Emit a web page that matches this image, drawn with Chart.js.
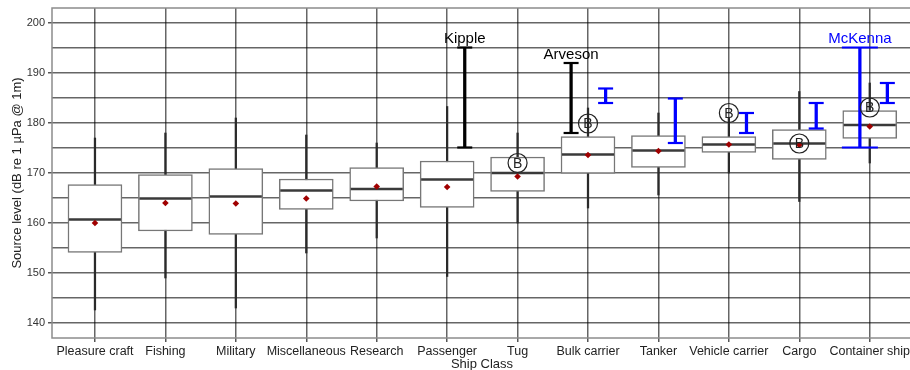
<!DOCTYPE html>
<html lang="en">
<head>
<meta charset="utf-8">
<style>
    html, body {
        margin: 0;
        padding: 0;
        background: #fff;
        overflow: hidden;
    }
    #wrap {
        width: 920px;
        height: 370px;
    }
</style>
</head>
<body>
<div id="wrap"><canvas id="shipChart" width="920" height="370"></canvas></div>

<script src="https://cdn.jsdelivr.net/npm/chart.js"></script>
<script>
    // ship classes along the x axis
    const categories = ['Pleasure craft', 'Fishing', 'Military', 'Miscellaneous', 'Research', 'Passenger',
        'Tug', 'Bulk carrier', 'Tanker', 'Vehicle carrier', 'Cargo', 'Container ship'];

    // box statistics (dB re 1 µPa @ 1m)
    const q1         = [154.1, 158.4, 157.7, 162.7, 164.4, 163.1, 166.3, 169.9, 171.1, 174.1, 172.7, 176.9];
    const medians    = [160.7, 164.9, 165.3, 166.5, 166.8, 168.7, 170.0, 173.7, 174.5, 175.7, 175.9, 179.6];
    const q3         = [167.7, 169.7, 170.9, 168.8, 171.1, 172.4, 173.2, 177.3, 177.5, 177.3, 178.7, 182.5];
    const means      = [160.0, 164.0, 163.9, 164.9, 167.3, 167.2, 169.3, 173.6, 174.4, 175.7, 175.6, 179.3];
    const whiskerLow = [142.6, 149.0, 143.0, 154.0, 157.0, 149.3, 160.0, 163.0, 165.6, 170.0, 164.3, 172.0];
    const whiskerHigh= [177.0, 178.0, 181.0, 177.6, 176.0, 183.3, 178.0, 183.0, 182.0, 181.0, 186.3, 188.0];

    // published reference ranges
    const refClass = ['Passenger', 'Bulk carrier', 'Bulk carrier', 'Tanker', 'Vehicle carrier', 'Cargo', 'Container ship', 'Container ship'];
    const refName  = ['Kipple', 'Arveson', '', '', '', '', 'McKenna', ''];
    const refLow   = [175.1, 178.0, 184.0, 176.0, 178.0, 178.9, 175.1, 184.0];
    const refHigh  = [195.1, 192.0, 186.9, 184.9, 182.0, 184.0, 195.1, 188.0];

    // "B" markers
    const bClass  = ['Tug', 'Bulk carrier', 'Vehicle carrier', 'Cargo', 'Container ship'];
    const bValues = [172.0, 179.9, 182.0, 175.9, 183.1];

    const yTicks = [140, 145, 150, 155, 160, 165, 170, 175, 180, 185, 190, 195, 200];

    // drawing style for the reference bars (side offset, colour, cap half width)
    const refDodge = [0.25, -0.24, 0.25, 0.24, 0.25, 0.24, -0.14, 0.25];
    const refColor = ['#000', '#000', '#0000ff', '#0000ff', '#0000ff', '#0000ff', '#0000ff', '#0000ff'];
    const refCap   = [7.5, 7.5, 7.5, 7.5, 7.5, 7.5, 18, 7.5];

    const FONT = "'Liberation Sans', Arial, Helvetica, sans-serif";
    const xOf = name => categories.indexOf(name) + 1;

    const refX = refClass.map((c, i) => xOf(c) + refDodge[i]);

    const capPoints = [], capRadius = [], capColor = [];
    refX.forEach((x, i) => {
        capPoints.push({x: x, y: refLow[i]}, {x: x, y: refHigh[i]});
        capRadius.push(refCap[i], refCap[i]);
        capColor.push(refColor[i], refColor[i]);
    });

    // B circles, labels and plot frame
    const annotate = {
        id: 'annotate',
        beforeDatasetsDraw(chart) {
            const a = chart.chartArea;
            const ctx = chart.ctx;
            ctx.save();
            ctx.strokeStyle = '#8c8c8c';
            ctx.lineWidth = 1.5;
            ctx.strokeRect(a.left, a.top, a.right - a.left, a.bottom - a.top);
            ctx.restore();
        },
        afterDatasetsDraw(chart) {
            const ctx = chart.ctx;
            const xs = chart.scales.x, ys = chart.scales.y;
            ctx.save();
            ctx.textAlign = 'center';

            bClass.forEach((c, i) => {
                const px = xs.getPixelForValue(xOf(c));
                const py = ys.getPixelForValue(bValues[i]);
                ctx.beginPath();
                ctx.arc(px, py, 9.5, 0, Math.PI * 2);
                ctx.lineWidth = 1.2;
                ctx.strokeStyle = '#222';
                ctx.stroke();
                ctx.fillStyle = '#222';
                ctx.font = '14px ' + FONT;
                ctx.textBaseline = 'middle';
                ctx.fillText('B', px, py + 1);
            });

            ctx.font = '15px ' + FONT;
            ctx.textBaseline = 'bottom';
            refName.forEach((name, i) => {
                if (!name) return;
                ctx.fillStyle = refColor[i];
                ctx.fillText(name, xs.getPixelForValue(refX[i]), ys.getPixelForValue(refHigh[i]) - 1);
            });
            ctx.restore();
        }
    };

    const ctx = document.getElementById('shipChart').getContext('2d');

    new Chart(ctx, {
        type: 'bar',
        data: {
            datasets: [
                {
                    // whiskers
                    type: 'bar',
                    data: categories.map((c, i) => ({x: i + 1, y: [whiskerLow[i], whiskerHigh[i]]})),
                    backgroundColor: '#2a2a2a',
                    barThickness: 1.6,
                    grouped: false,
                    order: 6
                },
                {
                    // boxes
                    type: 'bar',
                    data: categories.map((c, i) => ({x: i + 1, y: [q1[i], q3[i]]})),
                    backgroundColor: '#ffffff',
                    borderColor: '#777777',
                    borderWidth: 1.5,
                    borderSkipped: false,
                    barThickness: 54,
                    grouped: false,
                    order: 5
                },
                {
                    // medians
                    type: 'scatter',
                    data: medians.map((v, i) => ({x: i + 1, y: v})),
                    pointStyle: 'line',
                    pointRadius: 26,
                    borderColor: '#3a3a3a',
                    pointBorderWidth: 2.5,
                    order: 4
                },
                {
                    // means
                    type: 'scatter',
                    data: means.map((v, i) => ({x: i + 1, y: v})),
                    pointStyle: 'rectRot',
                    pointRadius: 3.3,
                    backgroundColor: '#a00000',
                    borderColor: '#a00000',
                    borderWidth: 0,
                    order: 3
                },
                {
                    // reference ranges
                    type: 'bar',
                    data: refX.map((x, i) => ({x: x, y: [refLow[i], refHigh[i]]})),
                    backgroundColor: refColor,
                    barThickness: 2.6,
                    grouped: false,
                    order: 2
                },
                {
                    // reference caps
                    type: 'scatter',
                    data: capPoints,
                    pointStyle: 'line',
                    pointRadius: capRadius,
                    borderColor: capColor,
                    pointBorderWidth: 2.2,
                    order: 1
                }
            ]
        },
        options: {
            responsive: false,
            animation: false,
            events: [],
            layout: {autoPadding: false, padding: {top: 8, right: 8, left: 0, bottom: 0}},
            plugins: {legend: {display: false}, tooltip: {enabled: false}},
            scales: {
                x: {
                    type: 'linear',
                    min: 0.39,
                    max: 12.6,
                    offset: false,
                    afterBuildTicks: s => { s.ticks = categories.map((c, i) => ({value: i + 1})); },
                    afterFit: s => { s.height = 32; s.paddingLeft = 0; s.paddingRight = 0; },
                    ticks: {
                        callback: v => categories[v - 1] || '',
                        autoSkip: false,
                        maxRotation: 0,
                        padding: 2,
                        color: '#222',
                        font: {family: FONT, size: 12.5}
                    },
                    grid: {offset: false, color: 'rgba(0,0,0,0.6)', lineWidth: 1.5, tickLength: 4, tickColor: '#555'},
                    border: {display: false},
                    title: {
                        display: true,
                        text: 'Ship Class',
                        color: '#222',
                        padding: {top: 0, bottom: -1},
                        font: {family: FONT, size: 13, lineHeight: 1}
                    }
                },
                y: {
                    min: 137,
                    max: 203,
                    afterBuildTicks: s => { s.ticks = yTicks.map(v => ({value: v})); },
                    afterFit: s => { s.width = 52; s.paddingTop = 0; s.paddingBottom = 0; },
                    ticks: {
                        callback: v => (v % 10 === 0 ? v : ''),
                        padding: 3,
                        color: '#333',
                        font: {family: FONT, size: 11}
                    },
                    grid: {
                        color: 'rgba(0,0,0,0.6)',
                        lineWidth: 1.5,
                        tickLength: 4,
                        tickColor: c => (c.tick && c.tick.value % 10 === 0 ? '#555' : 'rgba(0,0,0,0)')
                    },
                    border: {display: false},
                    title: {
                        display: true,
                        text: 'Source level (dB re 1 µPa @ 1m)',
                        color: '#222',
                        padding: {top: 10, bottom: 0},
                        font: {family: FONT, size: 13}
                    }
                }
            }
        },
        plugins: [annotate]
    });
</script>
</body>
</html>
